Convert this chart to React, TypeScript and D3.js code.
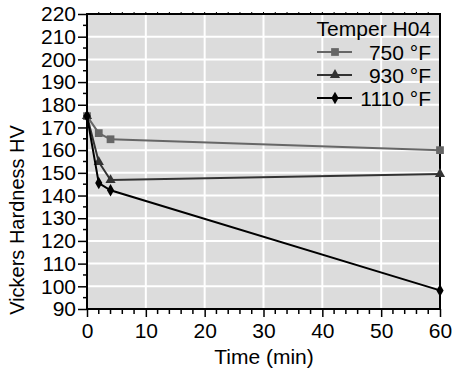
import { useRef, useEffect } from 'react';
import * as d3 from 'd3';

const times = [0, 2, 4, 60];
const hv750 = [175, 167.5, 164.8, 160];
const hv930 = [175, 154.8, 146.8, 149.5];
const hv1110 = [175, 145.5, 142.3, 98.2];

const seriesNames = ['750 °F', '930 °F', '1110 °F'];
const seriesColors = ['#666666', '#333333', '#000000'];
const seriesSymbols = [d3.symbolSquare, d3.symbolTriangle, d3.symbolDiamond];
const seriesSizes = [60, 45, 45];

const xTicks = [0, 10, 20, 30, 40, 50, 60];
const yTicks = [90, 100, 110, 120, 130, 140, 150, 160, 170, 180, 190, 200, 210, 220];

const W = 454;
const H = 376;
const FONT = 'Liberation Sans, Arial, sans-serif';
const FS = '21px';

export default function App() {
  const svgRef = useRef<SVGSVGElement>(null);

  useEffect(() => {
    if (!svgRef.current) return;
    const svg = d3.select(svgRef.current);
    svg.selectAll('*').remove();

    const margin = { top: 14, right: 14, bottom: 67, left: 87 };
    const innerW = W - margin.left - margin.right;
    const innerH = H - margin.top - margin.bottom;

    const x = d3.scaleLinear().domain([0, 60]).range([0, innerW]);
    const y = d3.scaleLinear().domain([90, 220]).range([innerH, 0]);

    const g = svg.append('g').attr('transform', 'translate(' + margin.left + ',' + margin.top + ')');

    // background
    g.append('rect')
      .attr('width', innerW)
      .attr('height', innerH)
      .attr('fill', '#dcdcdc');

    // grid
    g.selectAll('line.vgrid')
      .data(xTicks.slice(1, -1))
      .join('line')
      .attr('x1', (d) => x(d))
      .attr('x2', (d) => x(d))
      .attr('y1', 0)
      .attr('y2', innerH)
      .attr('stroke', '#fff')
      .attr('stroke-width', 2);

    g.selectAll('line.hgrid')
      .data(yTicks.slice(1, -1))
      .join('line')
      .attr('x1', 0)
      .attr('x2', innerW)
      .attr('y1', (d) => y(d))
      .attr('y2', (d) => y(d))
      .attr('stroke', '#fff')
      .attr('stroke-width', 2);

    // frame
    g.append('rect')
      .attr('width', innerW)
      .attr('height', innerH)
      .attr('fill', 'none')
      .attr('stroke', '#000')
      .attr('stroke-width', 2);

    // minor ticks
    const yMinor = d3.range(95, 220, 10);
    g.selectAll('line.yminor')
      .data(yMinor)
      .join('line')
      .attr('x1', -4)
      .attr('x2', 0)
      .attr('y1', (d) => y(d))
      .attr('y2', (d) => y(d))
      .attr('stroke', '#000')
      .attr('stroke-width', 1.5);

    const xMinor = d3.range(0, 61, 2).filter((d) => d % 10 !== 0);
    g.selectAll('line.xminor')
      .data(xMinor)
      .join('line')
      .attr('x1', (d) => x(d))
      .attr('x2', (d) => x(d))
      .attr('y1', innerH)
      .attr('y2', innerH + 5)
      .attr('stroke', '#000')
      .attr('stroke-width', 1.5);

    // tiny ticks on the top edge
    g.selectAll('line.xtop')
      .data(d3.range(2, 60, 2))
      .join('line')
      .attr('x1', (d) => x(d))
      .attr('x2', (d) => x(d))
      .attr('y1', 0)
      .attr('y2', -2)
      .attr('stroke', '#000')
      .attr('stroke-width', 1);

    // axes
    const yAxis = g.append('g')
      .call(d3.axisLeft(y).tickValues(yTicks).tickSize(9).tickPadding(2));
    yAxis.select('.domain').remove();
    yAxis.selectAll('.tick line').attr('stroke-width', 1.5);
    yAxis.selectAll('.tick text')
      .attr('font-size', FS)
      .attr('font-family', FONT)
      .attr('fill', '#000');

    const xAxis = g.append('g')
      .attr('transform', 'translate(0,' + innerH + ')')
      .call(d3.axisBottom(x).tickValues(xTicks).tickSize(8).tickPadding(6));
    xAxis.select('.domain').remove();
    xAxis.selectAll('.tick line').attr('stroke-width', 1.5);
    xAxis.selectAll('.tick text')
      .attr('font-size', FS)
      .attr('font-family', FONT)
      .attr('fill', '#000');

    // series
    const allSeries = [hv750, hv930, hv1110];
    const line = d3.line<number>()
      .x((_, i) => x(times[i]))
      .y((d) => y(d));

    allSeries.forEach((vals, si) => {
      g.append('path')
        .datum(vals)
        .attr('d', line)
        .attr('fill', 'none')
        .attr('stroke', seriesColors[si])
        .attr('stroke-width', 2);

      const sym = d3.symbol().type(seriesSymbols[si]).size(seriesSizes[si]);
      g.selectAll('path.m' + si)
        .data(vals)
        .join('path')
        .attr('class', 'm' + si)
        .attr('transform', (d, i) => 'translate(' + x(times[i]) + ',' + y(d) + ')')
        .attr('d', sym)
        .attr('fill', seriesColors[si]);
    });

    // legend
    const lg = svg.append('g').attr('font-family', FONT).attr('font-size', FS);
    lg.append('text')
      .attr('x', 431)
      .attr('y', 36)
      .attr('text-anchor', 'end')
      .text('Temper H04');

    seriesNames.forEach((name, si) => {
      const ly = 52 + si * 23;
      lg.append('line')
        .attr('x1', 317)
        .attr('x2', 352)
        .attr('y1', ly)
        .attr('y2', ly)
        .attr('stroke', seriesColors[si])
        .attr('stroke-width', 2);
      lg.append('path')
        .attr('transform', 'translate(335,' + ly + ')')
        .attr('d', d3.symbol().type(seriesSymbols[si]).size(seriesSizes[si])())
        .attr('fill', seriesColors[si]);
      lg.append('text')
        .attr('x', 431)
        .attr('y', ly + 8)
        .attr('text-anchor', 'end')
        .text(name);
    });

    // axis titles
    svg.append('text')
      .attr('x', 264)
      .attr('y', 364)
      .attr('text-anchor', 'middle')
      .attr('font-family', FONT)
      .attr('font-size', FS)
      .text('Time (min)');

    svg.append('text')
      .attr('transform', 'translate(24,220) rotate(-90)')
      .attr('text-anchor', 'middle')
      .attr('font-family', FONT)
      .attr('font-size', '20px')
      .text('Vickers Hardness HV');
  }, []);

  return (
    <div style={{ position: 'absolute', left: 0, top: 0 }}>
      <svg ref={svgRef} width={W} height={H} style={{ display: 'block', background: '#fff' }} />
    </div>
  );
}
